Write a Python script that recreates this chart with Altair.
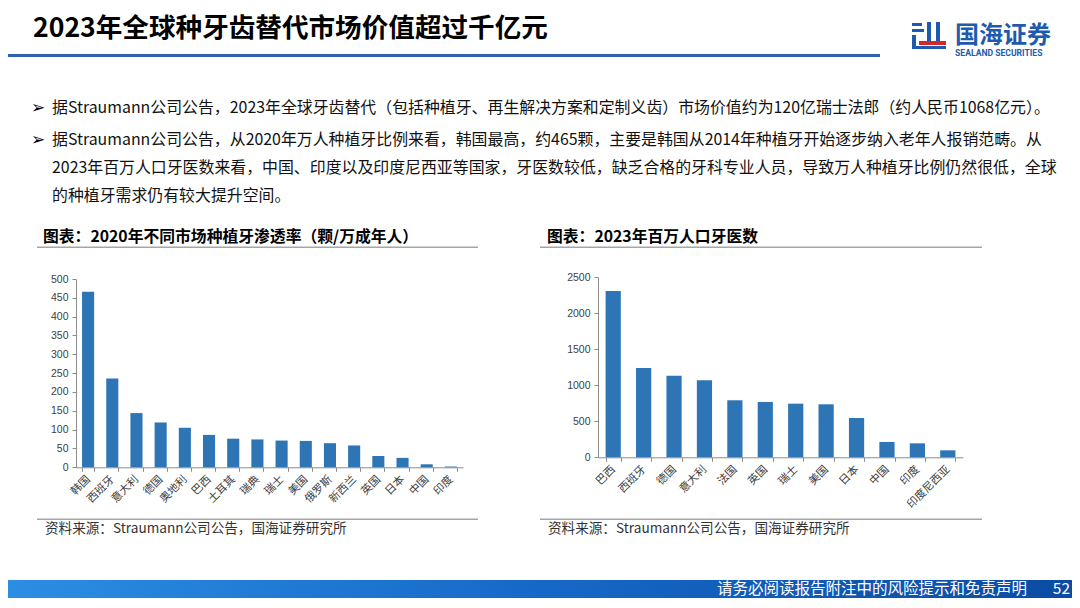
import altair as alt
import pandas as pd

# ---------------- data ----------------
markets1 = ["韩国", "西班牙", "意大利", "德国", "奥地利", "巴西", "土耳其", "瑞典",
            "瑞士", "美国", "俄罗斯", "新西兰", "英国", "日本", "中国", "印度"]
implants1 = [466, 236, 144, 119, 105, 86, 76, 74, 71, 70, 64, 58, 30, 25, 8, 2]
yticks1 = [0, 50, 100, 150, 200, 250, 300, 350, 400, 450, 500]

markets2 = ["巴西", "西班牙", "德国", "意大利", "法国", "英国", "瑞士", "美国",
            "日本", "中国", "印度", "印度尼西亚"]
dentists2 = [2310, 1241, 1134, 1069, 792, 769, 745, 736, 546, 213, 194, 97]
yticks2 = [0, 500, 1000, 1500, 2000, 2500]

page_title = "2023年全球种牙齿替代市场价值超过千亿元"
bullet_lines = [
    "据Straumann公司公告，2023年全球牙齿替代（包括种植牙、再生解决方案和定制义齿）市场价值约为120亿瑞士法郎（约人民币1068亿元）。",
    "据Straumann公司公告，从2020年万人种植牙比例来看，韩国最高，约465颗，主要是韩国从2014年种植牙开始逐步纳入老年人报销范畴。从",
    "2023年百万人口牙医数来看，中国、印度以及印度尼西亚等国家，牙医数较低，缺乏合格的牙科专业人员，导致万人种植牙比例仍然很低，全球",
    "的种植牙需求仍有较大提升空间。",
]
chart1_title = "图表：2020年不同市场种植牙渗透率（颗/万成年人）"
chart2_title = "图表：2023年百万人口牙医数"
source_text = "资料来源：Straumann公司公告，国海证券研究所"
footer_text = "请务必阅读报告附注中的风险提示和免责声明"
page_no = "52"

df1 = pd.DataFrame({"市场": markets1, "颗数": implants1})
df2 = pd.DataFrame({"国家": markets2, "牙医数": dentists2})

# ---------------- styling ----------------
W, H = 1064, 590
FONT = "Noto Sans CJK SC"
BAR = "#2E75B6"
AX = "#8C8C8C"
LAB = "#404040"
LOGO_BLUE = "#1E5BAE"

dummy = pd.DataFrame({"k": [0]})


def txt(s, x, y, size, color="#000000", weight="normal", align="left", font=FONT):
    return alt.Chart(dummy).mark_text(
        text=s, align=align, baseline="middle", fontSize=size,
        fontWeight=weight, color=color, font=font
    ).encode(x=alt.value(x), y=alt.value(y))


def box(x, x2, y, y2, color):
    return alt.Chart(dummy).mark_rect(color=color).encode(
        x=alt.value(x), x2=alt.value(x2), y=alt.value(y), y2=alt.value(y2))


def x_axis(bottom):
    return alt.Axis(title=None, orient="bottom", labelAngle=-45, labelAlign="right",
                    labelBaseline="middle", labelFontSize=11, labelColor=LAB, labelFont=FONT,
                    labelPadding=6, labelOverlap=False, domainColor=AX, tickColor=AX,
                    tickSize=4, tickBand="extent", offset=bottom - H)


def y_axis(left, vals):
    return alt.Axis(title=None, orient="left", values=vals, format="d", grid=False,
                    labelFontSize=10.5, labelColor=LAB, labelFont="Liberation Sans",
                    labelPadding=4, domainColor=AX, tickColor=AX, tickSize=4, offset=-left)


# plot-area geometry (chart pixel coordinates)
X1 = [68, 455]
Y1 = [459.3, 271]
X2 = [590, 955]
Y2 = [449.3, 269.3]

bars1 = alt.Chart(df1).mark_bar(color=BAR).encode(
    x=alt.X("市场:N", sort=None,
            scale=alt.Scale(range=X1, paddingInner=0.5, paddingOuter=0.25),
            axis=x_axis(Y1[0])),
    y=alt.Y("颗数:Q", scale=alt.Scale(domain=[0, 500], range=Y1, nice=False),
            axis=y_axis(X1[0], yticks1)),
)

bars2 = alt.Chart(df2).mark_bar(color=BAR).encode(
    x=alt.X("国家:N", sort=None,
            scale=alt.Scale(range=X2, paddingInner=0.5, paddingOuter=0.25),
            axis=x_axis(Y2[0])),
    y=alt.Y("牙医数:Q", scale=alt.Scale(domain=[0, 2500], range=Y2, nice=False),
            axis=y_axis(X2[0], yticks2)),
)

layers = []
# header
layers.append(txt(page_title, 25, 21, 26.6, weight="bold"))
layers.append(box(0, 872, 46, 49, "#2F62B0"))
# logo
layers += [
    box(904, 914, 15, 18, LOGO_BLUE),
    box(904, 916, 21, 24, LOGO_BLUE),
    box(904, 908, 27, 40, LOGO_BLUE),
    box(919, 923, 14, 33, LOGO_BLUE),
    box(928, 932, 14, 33, LOGO_BLUE),
    box(911, 938, 33, 37, "#D6262B"),
    box(904, 938, 38, 41, LOGO_BLUE),
]
layers.append(txt("国海证券", 947, 28, 24, color=LOGO_BLUE, weight="bold"))
layers.append(txt("SEALAND SECURITIES", 947, 45, 8.6, color=LOGO_BLUE, weight="bold", font="Roboto"))
# bullets
bullet_y = [100, 132, 160, 188]
layers.append(txt("➢", 23, bullet_y[0], 17, font="DejaVu Sans"))
layers.append(txt("➢", 23, bullet_y[1], 17, font="DejaVu Sans"))
for s, yy in zip(bullet_lines, bullet_y):
    layers.append(txt(s, 44, yy, 15.9, color="#111111"))
# chart titles and rules
layers.append(txt(chart1_title, 35, 229, 15.8, weight="bold"))
layers.append(txt(chart2_title, 539, 229, 15.8, weight="bold"))
layers.append(box(29, 470, 238.5, 240, "#A6A6A6"))
layers.append(box(532, 974, 238.5, 240, "#A6A6A6"))
layers.append(box(29, 470, 510.5, 512, "#A6A6A6"))
layers.append(box(532, 974, 510.5, 512, "#A6A6A6"))
layers.append(txt(source_text, 37, 521, 13.6, color="#333333"))
layers.append(txt(source_text, 540, 521, 13.6, color="#333333"))
# footer
grad = alt.LinearGradient(
    gradient="linear",
    stops=[alt.GradientStop(color="#2C8DE3", offset=0),
           alt.GradientStop(color="#1668C8", offset=0.5),
           alt.GradientStop(color="#0B4BA3", offset=1)],
    x1=0, x2=1, y1=0, y2=0)
layers.append(alt.Chart(dummy).mark_rect(color=grad).encode(
    x=alt.value(0), x2=alt.value(W), y=alt.value(572), y2=alt.value(H)))
layers.append(txt(footer_text, 1019, 581, 15.5, color="#FFFFFF", align="right"))
layers.append(txt(page_no, 1062, 581, 15.5, color="#FFFFFF", align="right"))

chart = alt.layer(bars1, bars2, *layers).resolve_scale(
    x="independent", y="independent"
).properties(
    width=W, height=H, padding=0, autosize=alt.AutoSizeParams(type="none"),
    background="white"
).configure_view(stroke=None)

chart.save("out.html", embed_options={"renderer": "svg", "actions": False})
